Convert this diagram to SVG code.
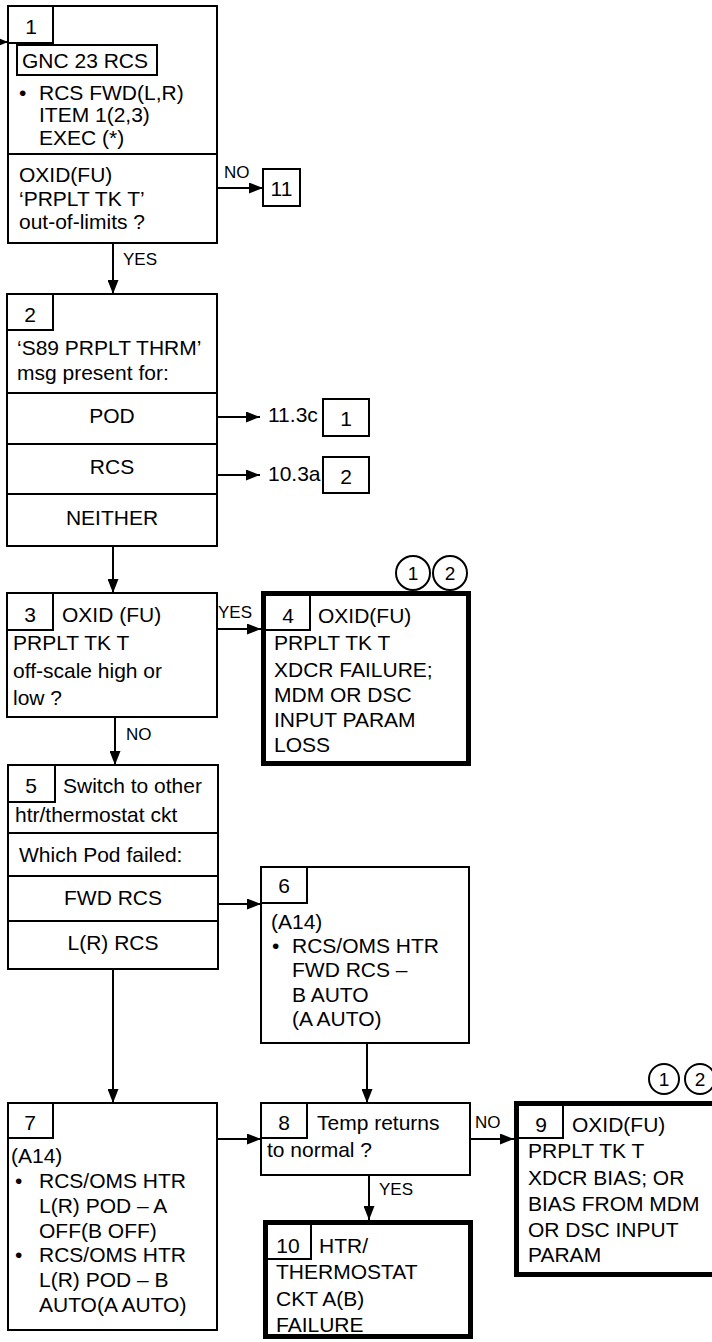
<svg xmlns="http://www.w3.org/2000/svg" width="712" height="1342" viewBox="0 0 712 1342">
<style>
.box{fill:#fff;stroke:#000;stroke-width:2}
.thick{fill:#fff;stroke:#000;stroke-width:5}
.ln{fill:none;stroke:#000;stroke-width:2}
.t{font-family:"Liberation Sans",Arial,Helvetica,sans-serif;font-size:21px;fill:#000}
.lbl{font-family:"Liberation Sans",Arial,Helvetica,sans-serif;font-size:17px;fill:#000}
.c{text-anchor:middle}
.cir{fill:#fff;stroke:#000;stroke-width:2}
.ct{font-family:"Liberation Sans",Arial,Helvetica,sans-serif;font-size:19px;fill:#000;text-anchor:middle}
.conn path{fill:none;stroke:#000;stroke-width:2;marker-end:url(#ah)}
</style>
<defs>
<marker id="ah" markerUnits="userSpaceOnUse" markerWidth="14" markerHeight="11" refX="14" refY="5.5" orient="auto">
<path d="M0,0 L14,5.5 L0,11 z" fill="#000"/>
</marker>
</defs>
<rect width="712" height="1342" fill="#fff"/>

<g id="connectors" class="conn">
<path d="M-10,42 H8"/>
<path d="M217,188 H263"/>
<path d="M113,243 V294"/>
<path d="M217,417 H260"/>
<path d="M217,475 H260"/>
<path d="M113,546 V593"/>
<path d="M217,629 H261"/>
<path d="M115,717 V765"/>
<path d="M218,904 H261"/>
<path d="M113,969 V1103"/>
<path d="M367,1043 V1103"/>
<path d="M217,1139 H261"/>
<path d="M470,1139 H514"/>
<path d="M369,1175 V1220"/>
</g>
<g id="conn-labels">
<text class="lbl" x="224" y="178">NO</text>
<text class="lbl" x="123" y="265">YES</text>
<text class="lbl" x="218" y="618">YES</text>
<text class="lbl" x="126" y="740">NO</text>
<text class="lbl" x="475" y="1128">NO</text>
<text class="lbl" x="379" y="1195">YES</text>
<text class="t" x="268" y="422">11.3c</text>
<text class="t" x="268" y="481">10.3a</text>
</g>

<g id="node1">
<rect class="box" x="8" y="6" width="209" height="237"/>
<rect class="box" x="8" y="6" width="45" height="37"/>
<rect class="box" x="17" y="45" width="140" height="30"/>
<line class="ln" x1="8" y1="154" x2="217" y2="154"/>
<text class="t c" x="31" y="34">1</text>
<text class="t" x="22" y="68">GNC 23 RCS</text>
<text class="t" x="19" y="100">•</text>
<text class="t" x="39" y="100">RCS FWD(L,R)</text>
<text class="t" x="39" y="122">ITEM 1(2,3)</text>
<text class="t" x="39" y="145">EXEC (*)</text>
<text class="t" x="19" y="182">OXID(FU)</text>
<text class="t" x="19" y="206">‘PRPLT TK T’</text>
<text class="t" x="19" y="229">out-of-limits ?</text>
</g>

<g id="node11">
<rect class="box" x="263" y="169" width="37" height="37"/>
<text class="t c" x="281.5" y="196">11</text>
</g>

<g id="node2">
<rect class="box" x="7" y="294" width="210" height="252"/>
<rect class="box" x="7" y="294" width="46" height="36"/>
<text class="t c" x="30" y="322">2</text>
<text class="t" x="17" y="355">‘S89 PRPLT THRM’</text>
<text class="t" x="17" y="380">msg present for:</text>
<line class="ln" x1="7" y1="393" x2="217" y2="393"/>
<line class="ln" x1="7" y1="444" x2="217" y2="444"/>
<line class="ln" x1="7" y1="494" x2="217" y2="494"/>
<text class="t c" x="112" y="423">POD</text>
<text class="t c" x="112" y="474">RCS</text>
<text class="t c" x="112" y="525">NEITHER</text>
</g>

<g id="ref1">
<rect class="box" x="323" y="399" width="46" height="37"/>
<text class="t c" x="346" y="426">1</text>
</g>
<g id="ref2">
<rect class="box" x="323" y="457" width="46" height="36"/>
<text class="t c" x="346" y="484">2</text>
</g>

<g id="node3">
<rect class="box" x="7" y="593" width="210" height="124"/>
<rect class="box" x="7" y="593" width="46" height="37"/>
<text class="t c" x="30" y="622">3</text>
<text class="t" x="62" y="622">OXID (FU)</text>
<text class="t" x="13" y="650">PRPLT TK T</text>
<text class="t" x="13" y="678">off-scale high or</text>
<text class="t" x="13" y="705">low ?</text>
</g>

<g id="node4">
<rect class="thick" x="263.5" y="593.5" width="205" height="170"/>
<path class="ln" d="M310,593 V630 H263"/>
<text class="t c" x="288" y="623">4</text>
<text class="t" x="318" y="623">OXID(FU)</text>
<text class="t" x="274" y="650">PRPLT TK T</text>
<text class="t" x="274" y="677">XDCR FAILURE;</text>
<text class="t" x="274" y="702">MDM OR DSC</text>
<text class="t" x="274" y="727">INPUT PARAM</text>
<text class="t" x="274" y="752">LOSS</text>
<circle class="cir" cx="413" cy="573" r="17"/>
<circle class="cir" cx="450" cy="573" r="17"/>
<text class="ct" x="413" y="580">1</text>
<text class="ct" x="450" y="580">2</text>
</g>

<g id="node5">
<rect class="box" x="8" y="765" width="210" height="204"/>
<rect class="box" x="8" y="765" width="47" height="37"/>
<text class="t c" x="31" y="793">5</text>
<text class="t" x="63" y="793">Switch to other</text>
<text class="t" x="15" y="822">htr/thermostat ckt</text>
<line class="ln" x1="8" y1="833" x2="218" y2="833"/>
<text class="t" x="19" y="862">Which Pod failed:</text>
<line class="ln" x1="8" y1="876" x2="218" y2="876"/>
<text class="t c" x="113" y="905">FWD RCS</text>
<line class="ln" x1="8" y1="921" x2="218" y2="921"/>
<text class="t c" x="113" y="950">L(R) RCS</text>
</g>

<g id="node6">
<rect class="box" x="261" y="867" width="208" height="176"/>
<rect class="box" x="261" y="867" width="46" height="36"/>
<text class="t c" x="284" y="893">6</text>
<text class="t" x="271" y="929">(A14)</text>
<text class="t" x="272" y="953">•</text>
<text class="t" x="292" y="953">RCS/OMS HTR</text>
<text class="t" x="292" y="977">FWD RCS –</text>
<text class="t" x="292" y="1002">B AUTO</text>
<text class="t" x="292" y="1026">(A AUTO)</text>
</g>

<g id="node7">
<rect class="box" x="8" y="1103" width="209" height="227"/>
<rect class="box" x="8" y="1103" width="45" height="35"/>
<text class="t c" x="30" y="1130">7</text>
<text class="t" x="11" y="1163">(A14)</text>
<text class="t" x="15" y="1188">•</text>
<text class="t" x="39" y="1188">RCS/OMS HTR</text>
<text class="t" x="39" y="1213">L(R) POD – A</text>
<text class="t" x="39" y="1238">OFF(B OFF)</text>
<text class="t" x="15" y="1262">•</text>
<text class="t" x="39" y="1262">RCS/OMS HTR</text>
<text class="t" x="39" y="1287">L(R) POD – B</text>
<text class="t" x="39" y="1312">AUTO(A AUTO)</text>
</g>

<g id="node8">
<rect class="box" x="261" y="1103" width="209" height="72"/>
<rect class="box" x="261" y="1103" width="46" height="35"/>
<text class="t c" x="284" y="1130">8</text>
<text class="t" x="317" y="1130">Temp returns</text>
<text class="t" x="267" y="1157">to normal ?</text>
</g>

<g id="node9">
<rect class="thick" x="516.5" y="1103.5" width="205" height="171"/>
<path class="ln" d="M563,1103 V1138 H516"/>
<text class="t c" x="541" y="1132">9</text>
<text class="t" x="572" y="1132">OXID(FU)</text>
<text class="t" x="528" y="1158">PRPLT TK T</text>
<text class="t" x="528" y="1185">XDCR BIAS; OR</text>
<text class="t" x="528" y="1211">BIAS FROM MDM</text>
<text class="t" x="528" y="1237">OR DSC INPUT</text>
<text class="t" x="528" y="1262">PARAM</text>
<circle class="cir" cx="664" cy="1079" r="15"/>
<circle class="cir" cx="700" cy="1079" r="15"/>
<text class="ct" x="664" y="1086">1</text>
<text class="ct" x="700" y="1086">2</text>
</g>

<g id="node10">
<rect class="thick" x="265.5" y="1222.5" width="205" height="114"/>
<path class="ln" d="M311,1222 V1259 H265"/>
<text class="t c" x="288" y="1253">10</text>
<text class="t" x="319" y="1253">HTR/</text>
<text class="t" x="276" y="1279">THERMOSTAT</text>
<text class="t" x="276" y="1306">CKT A(B)</text>
<text class="t" x="276" y="1332">FAILURE</text>
</g>
</svg>
